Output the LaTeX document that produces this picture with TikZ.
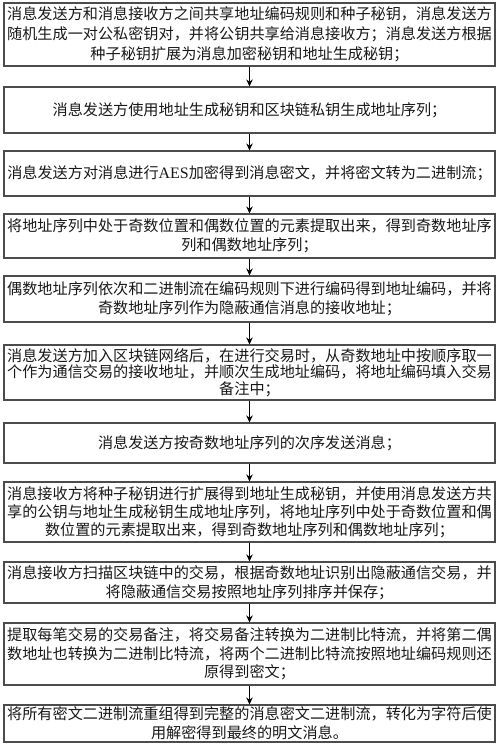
\documentclass[tikz,border=0pt]{standalone}
\usepackage{fontspec}
\setmainfont{Liberation Serif}
\newfontfamily\cjk{Noto Sans CJK SC}
\usetikzlibrary{arrows.meta}
\tikzset{
  stepbox/.style={draw=black!70, line width=1.1bp, minimum width=491bp, inner sep=0pt,
    align=center, text=black!90, font=\cjk\fontsize{15.2}{19}\selectfont},
  arr/.style={draw=black, line width=1bp, -{Stealth[length=7bp,width=6.5bp]}}
}
\begin{document}
\begin{tikzpicture}[x=1bp,y=1bp]
\useasboundingbox[fill=white] (0,0) rectangle (500,-754);
\node[stepbox, minimum height=63bp, font=\cjk\fontsize{15.2}{20}\selectfont] (b1) at (249.5,-34.5) {消息发送方和消息接收方之间共享地址编码规则和种子秘钥，消息发送方\\随机生成一对公私密钥对，并将公钥共享给消息接收方；消息发送方根据\\种子秘钥扩展为消息加密秘钥和地址生成秘钥；};
\node[stepbox, minimum height=46bp] (b2) at (249.5,-110) {消息发送方使用地址生成秘钥和区块链私钥生成地址序列；};
\node[stepbox, minimum height=45bp] (b3) at (249.5,-173.5) {消息发送方对消息进行{\rmfamily\fontsize{16}{19}\selectfont AES}加密得到消息密文，并将密文转为二进制流；};
\node[stepbox, minimum height=44bp] (b4) at (249.5,-236) {将地址序列中处于奇数位置和偶数位置的元素提取出来，得到奇数地址序\\列和偶数地址序列；};
\node[stepbox, minimum height=46bp] (b5) at (249.5,-299) {偶数地址序列依次和二进制流在编码规则下进行编码得到地址编码，并将\\奇数地址序列作为隐蔽通信消息的接收地址；};
\node[stepbox, minimum height=55bp, font=\cjk\fontsize{15.2}{16.5}\selectfont] (b6) at (249.5,-372.5) {消息发送方加入区块链网络后，在进行交易时，从奇数地址中按顺序取一\\个作为通信交易的接收地址，并顺次生成地址编码，将地址编码填入交易\\备注中；};
\node[stepbox, minimum height=40bp] (b7) at (249.5,-443) {消息发送方按奇数地址序列的次序发送消息；};
\node[stepbox, minimum height=60bp, font=\cjk\fontsize{15.2}{18}\selectfont] (b8) at (249.5,-512) {消息接收方将种子秘钥进行扩展得到地址生成秘钥，并使用消息发送方共\\享的公钥与地址生成秘钥生成地址序列，将地址序列中处于奇数位置和偶\\数位置的元素提取出来，得到奇数地址序列和偶数地址序列；};
\node[stepbox, minimum height=41bp] (b9) at (249.5,-582.5) {消息接收方扫描区块链中的交易，根据奇数地址识别出隐蔽通信交易，并\\将隐蔽通信交易按照地址序列排序并保存；};
\node[stepbox, minimum height=62bp, font=\cjk\fontsize{15.2}{18.5}\selectfont] (b10) at (249.5,-654) {提取每笔交易的交易备注，将交易备注转换为二进制比特流，并将第二偶\\数地址也转换为二进制比特流，将两个二进制比特流按照地址编码规则还\\原得到密文；};
\node[stepbox, minimum height=37bp] (b11) at (249.5,-723.5) {将所有密文二进制流重组得到完整的消息密文二进制流，转化为字符后使\\用解密得到最终的明文消息。};
\foreach \a/\b in {b1/b2,b2/b3,b3/b4,b4/b5,b5/b6,b6/b7,b7/b8,b8/b9,b9/b10,b10/b11}
  \draw[arr] (\a.south) -- (\b.north);
\end{tikzpicture}
\end{document}
